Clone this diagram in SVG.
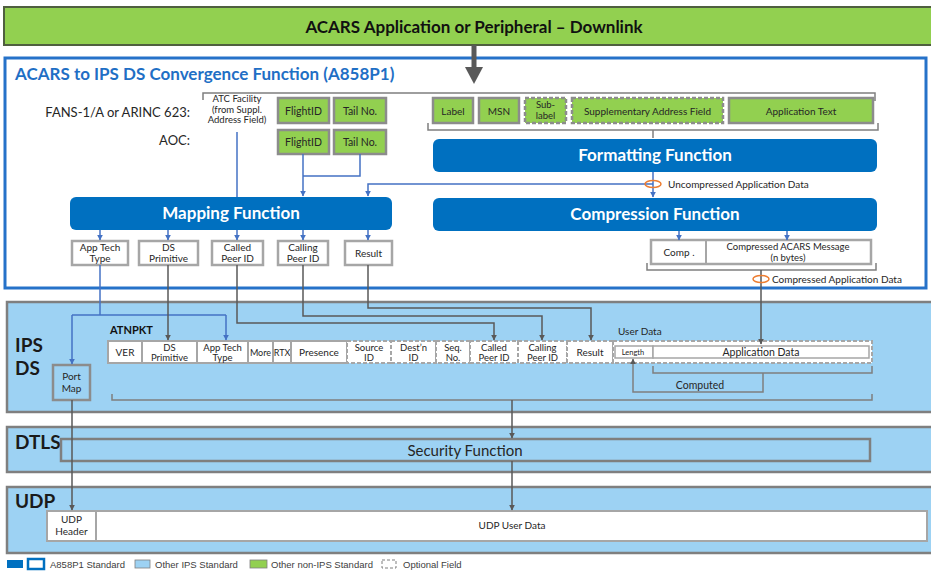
<svg xmlns="http://www.w3.org/2000/svg" width="931" height="576" viewBox="0 0 931 576">
<defs>
<style>
text{font-family:Lato,"Open Sans","Liberation Sans",sans-serif;fill:#262626}
.c{text-anchor:middle}
.grn{fill:#92d050;stroke:#8c8c8c;stroke-width:2.5}
.grnd{fill:#92d050;stroke:#8c8c8c;stroke-width:2.5;stroke-dasharray:4 2}
.fn{fill:#0070c0}
.fnt{fill:#fff;font-weight:bold;font-size:17px;text-anchor:middle}
.wb{fill:#fff;stroke:#a6a6a6;stroke-width:2.5}
.cell{fill:#fff;stroke:#a6a6a6;stroke-width:2}
.celld{fill:#fff;stroke:#a6a6a6;stroke-width:2;stroke-dasharray:4 2}
.band{fill:#9dd2f3;stroke:#7f7f7f;stroke-width:2.5}
.bl{fill:none;stroke:#4472c4;stroke-width:1.5}
.dk{fill:none;stroke:#595959;stroke-width:1.5}
.br{fill:none;stroke:#7f7f7f;stroke-width:1.5}
.s9{font-size:9.5px}
.s10{font-size:10px}
.s11{font-size:10.5px}
.big{font-size:19px;font-weight:bold;fill:#1a1a1a}
.ell{fill:none;stroke:#ed7d31;stroke-width:1.5}
.lg{font-family:"Liberation Sans",Arial,sans-serif;font-size:9.5px;fill:#404040}
</style>
<marker id="ab" viewBox="0 0 10 10" refX="9" refY="5" markerWidth="6" markerHeight="6" markerUnits="userSpaceOnUse" orient="auto"><path d="M0,0 L10,5 L0,10 z" fill="#4472c4"/></marker>
<marker id="ad" viewBox="0 0 10 10" refX="9" refY="5" markerWidth="6" markerHeight="6" markerUnits="userSpaceOnUse" orient="auto"><path d="M0,0 L10,5 L0,10 z" fill="#595959"/></marker>
</defs>

<!-- top band -->
<g id="acars-app">
<rect x="4" y="7" width="929" height="38" fill="#92d050" stroke="#4f5f3f" stroke-width="2"/>
<text x="474" y="33" class="c" style="font-size:17px;font-weight:bold;fill:#111">ACARS Application or Peripheral – Downlink</text>
</g>

<!-- convergence function -->
<g id="convergence">
<rect x="5" y="58" width="921" height="230" fill="#fff" stroke="#2672c9" stroke-width="3"/>
<text x="15" y="80" style="font-size:17px;font-weight:bold;fill:#1f6fc5">ACARS to IPS DS Convergence Function (A858P1)</text>
<text x="190" y="117" style="font-size:13px;text-anchor:end">FANS-1/A or ARINC 623:</text>
<text x="190" y="145" style="font-size:13px;text-anchor:end">AOC:</text>
<text x="237" y="102" class="c s9">ATC Facility</text>
<text x="237" y="112.5" class="c s9">(from Suppl.</text>
<text x="237" y="123" class="c s9">Address Field)</text>
</g>

<g id="flightid1"><rect x="278" y="98" width="51" height="25" class="grn"/><text x="303.5" y="115" class="c s11">FlightID</text></g>
<g id="tailno1"><rect x="334" y="98" width="52" height="25" class="grn"/><text x="360" y="115" class="c s11">Tail No.</text></g>
<g id="flightid2"><rect x="278" y="130" width="51" height="24" class="grn"/><text x="303.5" y="146" class="c s11">FlightID</text></g>
<g id="tailno2"><rect x="334" y="130" width="52" height="24" class="grn"/><text x="360" y="146" class="c s11">Tail No.</text></g>

<g id="label"><rect x="433" y="98" width="40" height="25" class="grn"/><text x="453" y="115" class="c s10">Label</text></g>
<g id="msn"><rect x="479" y="98" width="40" height="25" class="grn"/><text x="499" y="115" class="c s10">MSN</text></g>
<g id="sublabel"><rect x="525" y="98" width="41" height="25" class="grnd"/><text x="545.5" y="108" class="c s9">Sub-</text><text x="545.5" y="119" class="c s9">label</text></g>
<g id="supp"><rect x="572" y="98" width="151" height="25" class="grnd"/><text x="647.5" y="115" class="c s10">Supplementary Address Field</text></g>
<g id="apptext"><rect x="729" y="98" width="144" height="25" class="grn"/><text x="801" y="115" class="c s10">Application Text</text></g>

<g id="formatting"><rect x="433" y="139" width="444" height="33" rx="6" class="fn"/><text x="655" y="161" class="fnt">Formatting Function</text></g>
<g id="compression"><rect x="433" y="198" width="444" height="33" rx="6" class="fn"/><text x="655" y="220" class="fnt">Compression Function</text></g>
<g id="mapping"><rect x="70" y="197" width="322" height="33" rx="6" class="fn"/><text x="231" y="219" class="fnt">Mapping Function</text></g>

<g id="m-apptech"><rect x="72" y="241" width="56" height="24" class="wb"/><text x="100" y="251" class="c s10">App Tech</text><text x="100" y="262" class="c s10">Type</text></g>
<g id="m-dsprim"><rect x="139" y="241" width="59" height="24" class="wb"/><text x="168.5" y="251" class="c s10">DS</text><text x="168.5" y="262" class="c s10">Primitive</text></g>
<g id="m-called"><rect x="212" y="241" width="51" height="24" class="wb"/><text x="237.5" y="251" class="c s10">Called</text><text x="237.5" y="262" class="c s10">Peer ID</text></g>
<g id="m-calling"><rect x="278" y="241" width="50" height="24" class="wb"/><text x="303" y="251" class="c s10">Calling</text><text x="303" y="262" class="c s10">Peer ID</text></g>
<g id="m-result"><rect x="345" y="241" width="47" height="24" class="wb"/><text x="368.5" y="257" class="c s10">Result</text></g>

<g id="comp-msg">
<rect x="651" y="240" width="220" height="24" fill="#fff" stroke="#a6a6a6" stroke-width="2.5"/>
<line x1="706" y1="240" x2="706" y2="264" stroke="#a6a6a6" stroke-width="2"/>
<text x="679" y="256" class="c s10">Comp .</text>
<text x="788" y="250" class="c s9">Compressed ACARS Message</text>
<text x="788" y="261" class="c s9">(n bytes)</text>
</g>

<!-- IPS DS -->
<g id="ipsds">
<rect x="7" y="302" width="926" height="110" class="band"/>
<text x="15" y="352" class="big">IPS</text>
<text x="15" y="375" class="big">DS</text>
<text x="110" y="334" style="font-size:11px;font-weight:bold;fill:#111">ATNPKT</text>
<text x="618" y="335" class="s10">User Data</text>
</g>
<g id="portmap"><rect x="53" y="365" width="37" height="35" fill="#9dd2f3" stroke="#8c8c8c" stroke-width="2.5"/><text x="71.5" y="380" class="c s10">Port</text><text x="71.5" y="392" class="c s10">Map</text></g>

<g id="atnpkt">
<rect x="108" y="341" width="34" height="22" class="cell"/><text x="125" y="356" class="c s10">VER</text>
<rect x="142" y="341" width="55" height="22" class="cell"/><text x="169.5" y="350.5" class="c s9">DS</text><text x="169.5" y="361" class="c s9">Primitive</text>
<rect x="197" y="341" width="51" height="22" class="cell"/><text x="222.5" y="350.5" class="c s9">App Tech</text><text x="222.5" y="361" class="c s9">Type</text>
<rect x="248" y="341" width="25" height="22" class="cell"/><text x="260.5" y="356" class="c" style="font-size:9px">More</text>
<rect x="273" y="341" width="18" height="22" class="cell"/><text x="282" y="356" class="c" style="font-size:9px">RTX</text>
<rect x="291" y="341" width="56" height="22" class="cell"/><text x="319" y="356" class="c s10">Presence</text>
<rect x="347" y="341" width="44" height="22" class="celld"/><text x="369" y="350.5" class="c s9">Source</text><text x="369" y="361" class="c s9">ID</text>
<rect x="391" y="341" width="45" height="22" class="celld"/><text x="413.5" y="350.5" class="c s9">Dest’n</text><text x="413.5" y="361" class="c s9">ID</text>
<rect x="436" y="341" width="34" height="22" class="celld"/><text x="453" y="350.5" class="c s9">Seq.</text><text x="453" y="361" class="c s9">No.</text>
<rect x="470" y="341" width="48" height="22" class="celld"/><text x="494" y="350.5" class="c s9">Called</text><text x="494" y="361" class="c s9">Peer ID</text>
<rect x="518" y="341" width="49" height="22" class="celld"/><text x="542.5" y="350.5" class="c s9">Calling</text><text x="542.5" y="361" class="c s9">Peer ID</text>
<rect x="567" y="341" width="46" height="22" class="celld"/><text x="590" y="356" class="c s10">Result</text>
<rect x="613" y="341" width="259" height="22" class="celld"/>
<rect x="615" y="346" width="38" height="12" fill="#fff" stroke="#a6a6a6" stroke-width="1.5"/><text x="633" y="355" class="c" style="font-size:7.5px">Length</text>
<rect x="653" y="346" width="216" height="12" fill="#fff" stroke="#a6a6a6" stroke-width="1.5"/><text x="761" y="356" class="c s11">Application Data</text>
</g>
<g id="computed"><text x="700" y="389" class="c s11">Computed</text></g>

<!-- DTLS -->
<g id="dtls">
<rect x="7" y="427" width="926" height="45" class="band"/>
<text x="15" y="449" class="big">DTLS</text>
</g>
<g id="security"><rect x="61" y="439" width="809" height="22" fill="none" stroke="#7f7f7f" stroke-width="2.5"/><text x="465" y="456" class="c" style="font-size:15px">Security Function</text></g>

<!-- UDP -->
<g id="udp">
<rect x="7" y="487" width="926" height="66" class="band"/>
<text x="15" y="508" class="big">UDP</text>
</g>
<g id="udp-header"><rect x="47" y="511" width="49" height="30" fill="#fff" stroke="#a6a6a6" stroke-width="2"/><text x="71.5" y="523" class="c s10">UDP</text><text x="71.5" y="535" class="c s10">Header</text></g>
<g id="udp-data"><rect x="96" y="511" width="831" height="30" fill="#fff" stroke="#a6a6a6" stroke-width="2"/><text x="512" y="529" class="c s10">UDP User Data</text></g>

<!-- connectors -->
<g id="connectors">
<line x1="474" y1="45" x2="474" y2="70" stroke="#595959" stroke-width="5"/>
<path d="M465,67 L483,67 L474,84 z" fill="#595959"/>
<path d="M203,100 L203,93 L875,93 L875,101" class="br"/>
<path d="M428,123 L428,130 L878,130 L878,123" class="br"/>
<line x1="653" y1="130" x2="653" y2="138" class="br"/>
<line x1="237" y1="132" x2="237" y2="197" class="bl"/>
<path d="M303,154 L303,196" class="bl" marker-end="url(#ab)"/>
<path d="M360,154 L360,176 L303,176" class="bl"/>
<path d="M653,172 L653,197" class="bl" marker-end="url(#ab)"/>
<path d="M653,184 L368,184 L368,196" class="bl" marker-end="url(#ab)"/>
<ellipse cx="653" cy="184" rx="8" ry="3.5" class="ell"/>
<text x="668" y="188" class="s10">Uncompressed Application Data</text>
<path d="M100,230 L100,240" class="bl" marker-end="url(#ab)"/>
<path d="M168,230 L168,240" class="bl" marker-end="url(#ab)"/>
<path d="M237,230 L237,240" class="bl" marker-end="url(#ab)"/>
<path d="M303,230 L303,240" class="bl" marker-end="url(#ab)"/>
<path d="M368,230 L368,240" class="bl" marker-end="url(#ab)"/>
<path d="M679,231 L679,240" class="bl" marker-end="url(#ab)"/>
<path d="M787,231 L787,240" class="bl" marker-end="url(#ab)"/>
<path d="M647,263 L647,270 L876,270 L876,263" class="br"/>
<path d="M761,270 L761,344" class="dk" marker-end="url(#ad)"/>
<ellipse cx="761" cy="279" rx="8" ry="3.5" class="ell"/>
<text x="772" y="283" class="s10">Compressed Application Data</text>
<path d="M100,265 L100,315" class="bl"/>
<path d="M72,315 L226,315" class="bl"/>
<path d="M72,315 L72,364" class="bl" marker-end="url(#ab)"/>
<path d="M226,315 L226,340" class="bl" marker-end="url(#ab)"/>
<path d="M168,265 L168,340" class="dk" marker-end="url(#ad)"/>
<path d="M237,265 L237,323 L494,323 L494,340" class="dk" marker-end="url(#ad)"/>
<path d="M303,265 L303,316 L542,316 L542,340" class="dk" marker-end="url(#ad)"/>
<path d="M368,265 L368,308 L591,308 L591,340" class="dk" marker-end="url(#ad)"/>
<path d="M653,366 L653,373 L872,373 L872,366" class="br"/>
<path d="M763,373 L763,392 L633,392 L633,359" class="br" marker-end="url(#ad)"/>
<path d="M112,394 L112,400 L872,400 L872,394" class="br"/>
<path d="M512,400 L512,438" class="dk" marker-end="url(#ad)"/>
<path d="M512,461 L512,510" class="dk" marker-end="url(#ad)"/>
<path d="M72,400 L72,510" class="dk" marker-end="url(#ad)"/>
</g>

<!-- legend -->
<g id="legend">
<rect x="7" y="560" width="16" height="8" fill="#0070c0"/>
<rect x="28" y="559" width="16" height="10" fill="#fff" stroke="#0070c0" stroke-width="2.5"/>
<text x="50" y="568" class="lg">A858P1 Standard</text>
<rect x="135" y="560" width="15" height="8" fill="#9dd2f3" stroke="#7f7f7f" stroke-width="0.8"/>
<text x="155" y="568" class="lg">Other IPS Standard</text>
<rect x="250" y="560" width="17" height="8" fill="#92d050" stroke="#7f7f7f" stroke-width="0.8"/>
<text x="271" y="568" class="lg">Other non-IPS Standard</text>
<rect x="382" y="560" width="14" height="8" fill="none" stroke="#7f7f7f" stroke-width="1" stroke-dasharray="3 2"/>
<text x="403" y="568" class="lg">Optional Field</text>
</g>
</svg>
